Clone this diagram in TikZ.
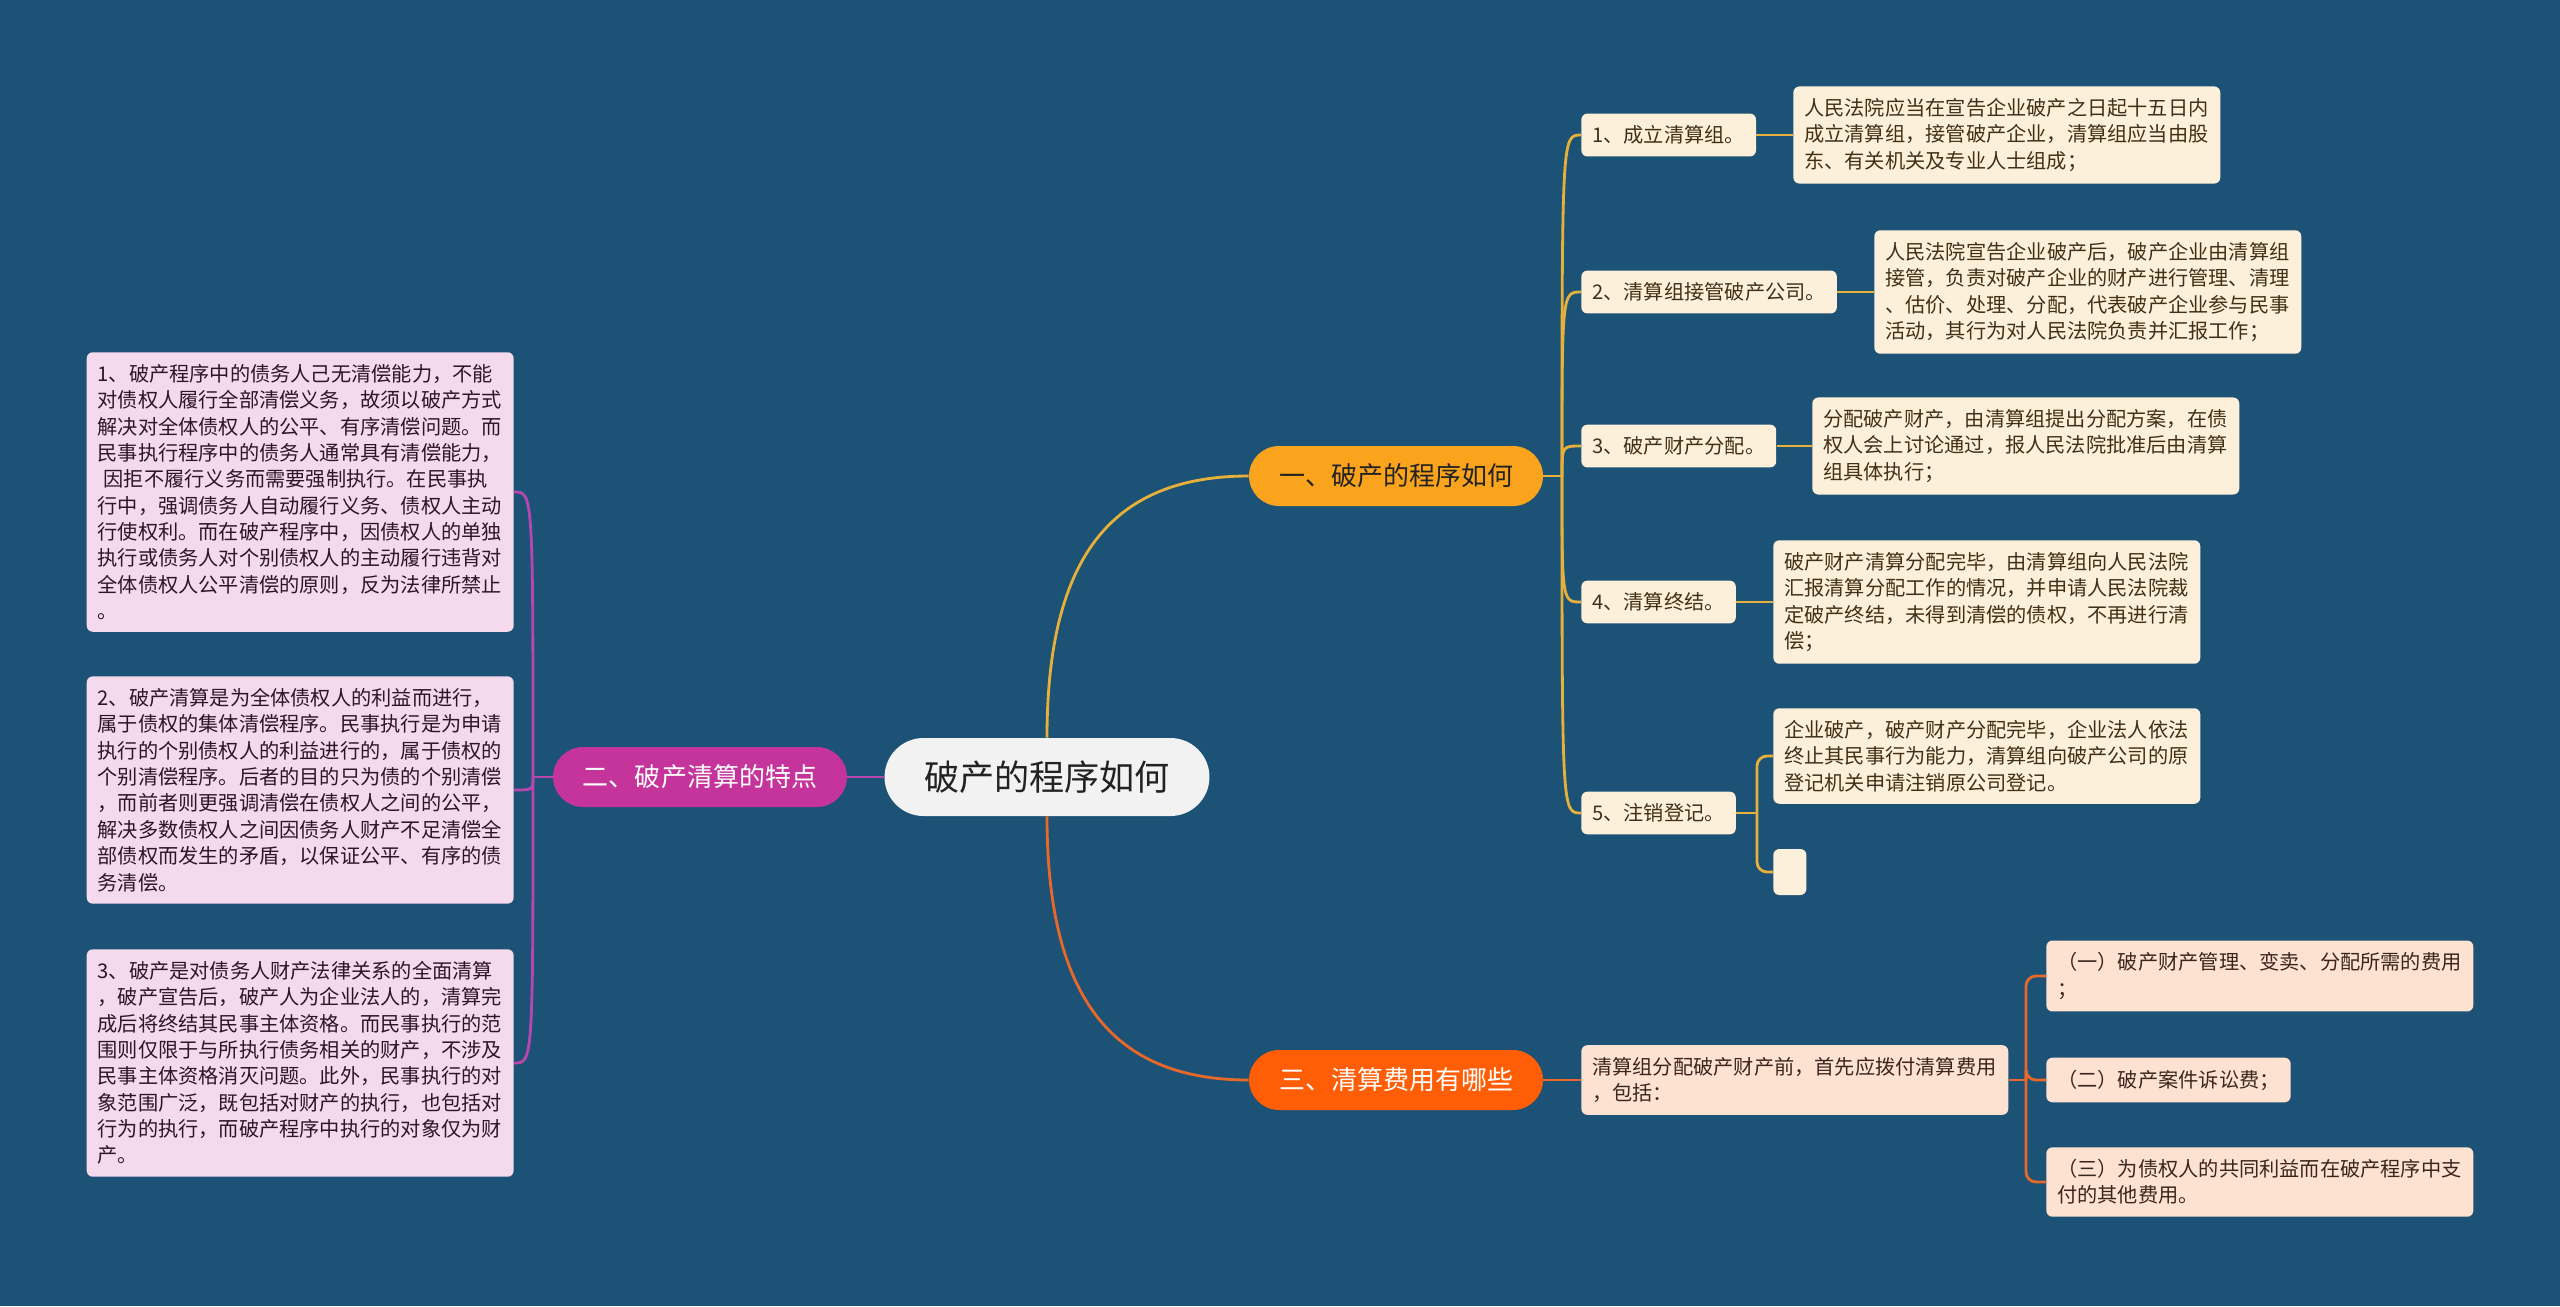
\documentclass[tikz,border=0pt]{standalone}
\usepackage{fontspec}
\setmainfont{Noto Sans CJK SC}
\definecolor{bgblue}{RGB}{27,82,118}
\definecolor{rootgray}{RGB}{242,242,242}
\definecolor{roottext}{RGB}{34,34,34}
\definecolor{topicgold}{RGB}{249,164,28}
\definecolor{topicpink}{RGB}{197,52,155}
\definecolor{topicorange}{RGB}{255,94,6}
\definecolor{goldline}{RGB}{230,176,58}
\definecolor{pinkline}{RGB}{184,70,174}
\definecolor{orangeline}{RGB}{232,104,42}
\definecolor{creamfill}{RGB}{253,240,218}
\definecolor{creamtext}{RGB}{66,48,22}
\definecolor{pinkfill}{RGB}{245,218,238}
\definecolor{pinktext}{RGB}{48,20,40}
\definecolor{peachfill}{RGB}{253,226,210}
\definecolor{peachtext}{RGB}{58,38,28}
\usetikzlibrary{positioning}

\begin{document}
\begin{tikzpicture}[x=0.02cm, y=-0.02cm,
  root/.style={fill=rootgray, text=roottext, rounded corners=0.78cm, minimum width=6.5cm, minimum height=1.56cm, font=\fontsize{20pt}{24pt}\selectfont},
  topic/.style={rounded corners=0.6cm, minimum width=5.88cm, minimum height=1.2cm, font=\fontsize{14.8pt}{18pt}\selectfont},
  leaf/.style={rounded corners=0.12cm, inner xsep=0.22cm, inner ysep=0.24cm, font=\fontsize{11.5pt}{15pt}\selectfont, align=left},
  wide/.style={leaf, text width=8.1cm},
  cream/.style={fill=creamfill, text=creamtext},
  pinkbox/.style={fill=pinkfill, text=pinktext},
  peach/.style={fill=peachfill, text=peachtext},
  link/.style={line width=1.6pt}]
  \fill[bgblue] (0,0) rectangle (2560,1306);

  \node[root] (root) at (1047,777) {破产的程序如何};
  \node[topic, fill=topicgold, text=roottext] (proc) at (1396,476) {一、破产的程序如何};
  \node[topic, fill=topicpink, text=white] (feat) at (700,777) {二、破产清算的特点};
  \node[topic, fill=topicorange, text=white] (cost) at (1396,1080) {三、清算费用有哪些};

  \node[leaf, cream, anchor=west] (s1) at (1581,135) {1、成立清算组。};
  \node[leaf, cream, anchor=west] (s2) at (1581,292) {2、清算组接管破产公司。};
  \node[leaf, cream, anchor=west] (s3) at (1581,446) {3、破产财产分配。};
  \node[leaf, cream, anchor=west] (s4) at (1581,602) {4、清算终结。};
  \node[leaf, cream, anchor=west] (s5) at (1581,813) {5、注销登记。};

  \node[wide, cream, anchor=west] (d1) at (1793,135) {人民法院应当在宣告企业破产之日起十五日内\\成立清算组，接管破产企业，清算组应当由股\\东、有关机关及专业人士组成；};
  \node[wide, cream, anchor=west] (d2) at (1874,292) {人民法院宣告企业破产后，破产企业由清算组\\接管，负责对破产企业的财产进行管理、清理\\、估价、处理、分配，代表破产企业参与民事\\活动，其行为对人民法院负责并汇报工作；};
  \node[wide, cream, anchor=west] (d3) at (1812,446) {分配破产财产，由清算组提出分配方案，在债\\权人会上讨论通过，报人民法院批准后由清算\\组具体执行；};
  \node[wide, cream, anchor=west] (d4) at (1773,602) {破产财产清算分配完毕，由清算组向人民法院\\汇报清算分配工作的情况，并申请人民法院裁\\定破产终结，未得到清偿的债权，不再进行清\\偿；};
  \node[wide, cream, anchor=west] (d5) at (1773,756) {企业破产，破产财产分配完毕，企业法人依法\\终止其民事行为能力，清算组向破产公司的原\\登记机关申请注销原公司登记。};
  \node[leaf, cream, anchor=west, minimum width=0.66cm, minimum height=0.92cm] (d5b) at (1773,872) {};

  \node[wide, pinkbox, anchor=east] (f1) at (514,492) {1、破产程序中的债务人己无清偿能力，不能\\对债权人履行全部清偿义务，故须以破产方式\\解决对全体债权人的公平、有序清偿问题。而\\民事执行程序中的债务人通常具有清偿能力，\\\hspace{0.3em}因拒不履行义务而需要强制执行。在民事执\\行中，强调债务人自动履行义务、债权人主动\\行使权利。而在破产程序中，因债权人的单独\\执行或债务人对个别债权人的主动履行违背对\\全体债权人公平清偿的原则，反为法律所禁止\\。};
  \node[wide, pinkbox, anchor=east] (f2) at (514,790) {2、破产清算是为全体债权人的利益而进行，\\属于债权的集体清偿程序。民事执行是为申请\\执行的个别债权人的利益进行的，属于债权的\\个别清偿程序。后者的目的只为债的个别清偿\\，而前者则更强调清偿在债权人之间的公平，\\解决多数债权人之间因债务人财产不足清偿全\\部债权而发生的矛盾，以保证公平、有序的债\\务清偿。};
  \node[wide, pinkbox, anchor=east] (f3) at (514,1063) {3、破产是对债务人财产法律关系的全面清算\\，破产宣告后，破产人为企业法人的，清算完\\成后将终结其民事主体资格。而民事执行的范\\围则仅限于与所执行债务相关的财产，不涉及\\民事主体资格消灭问题。此外，民事执行的对\\象范围广泛，既包括对财产的执行，也包括对\\行为的执行，而破产程序中执行的对象仅为财\\产。};

  \node[wide, peach, anchor=west] (c0) at (1581,1080) {清算组分配破产财产前，首先应拨付清算费用\\，包括：};
  \node[wide, peach, anchor=west] (c1) at (2046,976) {（一）破产财产管理、变卖、分配所需的费用\\；};
  \node[leaf, peach, anchor=west] (c2) at (2046,1080) {（二）破产案件诉讼费；};
  \node[wide, peach, anchor=west] (c3) at (2046,1182) {（三）为债权人的共同利益而在破产程序中支\\付的其他费用。};

  \draw[link, goldline] (root.north) .. controls +(0,-178) and +(-139,0) .. (proc.west);
  \draw[link, orangeline] (root.south) .. controls +(0,178) and +(-139,0) .. (cost.west);
  \draw[link, pinkline] (root.west) -- (feat.east);

  \coordinate (jp) at (1562,476);
  \draw[link, goldline] (proc.east) -- (jp);
  \foreach \n in {s1,s2,s3,s4,s5}
    \draw[link, goldline] (jp) .. controls (jp |- \n.west) .. (\n.west);
  \foreach \n in {1,2,3,4}
    \draw[link, goldline] (s\n.east) -- (d\n.west);
  \coordinate (j5) at (1757,813);
  \draw[link, goldline] (s5.east) -- (j5);
  \draw[link, goldline, rounded corners=0.2cm] (j5) |- (d5.west);
  \draw[link, goldline, rounded corners=0.2cm] (j5) |- (d5b.west);

  \coordinate (jf) at (533,777);
  \draw[link, pinkline] (feat.west) -- (jf);
  \foreach \n in {1,2,3}
    \draw[link, pinkline] (jf) .. controls (jf |- f\n.east) .. (f\n.east);

  \draw[link, orangeline] (cost.east) -- (c0.west);
  \coordinate (jc) at (2026,1080);
  \draw[link, orangeline] (c0.east) -- (jc);
  \foreach \n in {1,2,3}
    \draw[link, orangeline, rounded corners=0.2cm] (jc) |- (c\n.west);
\end{tikzpicture}
\end{document}
